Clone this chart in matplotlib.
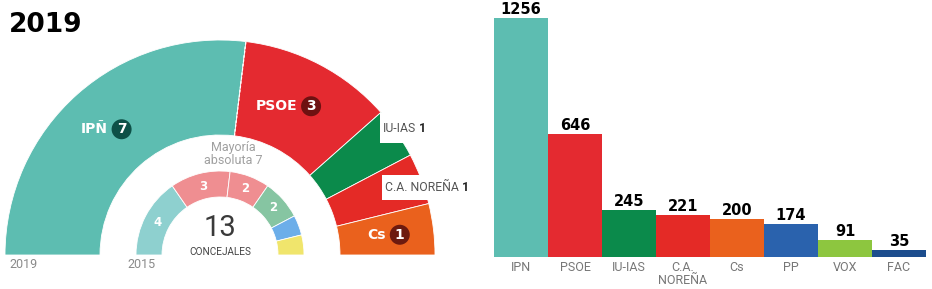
import matplotlib

matplotlib.use("Agg")
import matplotlib.pyplot as plt  # noqa: E402
from matplotlib.patches import Wedge, Rectangle, Circle  # noqa: E402
import numpy as np  # noqa: E402

# 2019 seats (outer ring)
parties_2019 = ["IPÑ", "PSOE", "IU-IAS", "C.A. NOREÑA", "Cs"]
seats_2019 = [7, 3, 1, 1, 1]
colors_2019 = ["#5dbdb1", "#e42a30", "#0b8a4b", "#e42a26", "#ea611d"]
badge_2019 = ["#0d5047", "#6e1111", None, None, "#6d1a0f"]

# 2015 seats (inner ring)
seats_2015 = [4, 3, 2, 2, 1, 1]
colors_2015 = ["#8ed0cf", "#ef8e91", "#ef8e91", "#86c5a2", "#6caee9", "#f0e56c"]
majority = 7

# votes (bar chart)
bar_labels = ["IPN", "PSOE", "IU-IAS", "C.A.\nNOREÑA", "Cs", "PP", "VOX", "FAC"]
votes = [1256, 646, 245, 221, 200, 174, 91, 35]
bar_colors = ["#5dbdb1", "#e42a30", "#0b8a4b", "#e42a26", "#ea611d",
              "#2a62ad", "#8dc63f", "#1c4d8d"]

GRAY = "#8a8a8a"
W, H = 932, 289

fig = plt.figure(figsize=(W / 100, H / 100), dpi=100)
ax = fig.add_axes([0, 0, 1, 1])
ax.set_xlim(0, W)
ax.set_ylim(0, H)
ax.axis("off")

cx, cy = 220, H - 255


def ring(seats, colors, r_out, width):
    total = sum(seats)
    step = 180.0 / total
    cum = np.concatenate([[0], np.cumsum(seats)])
    mids = []
    for i, c in enumerate(colors):
        t2 = 180 - cum[i] * step
        t1 = 180 - cum[i + 1] * step
        ax.add_patch(Wedge((cx, cy), r_out, t1, t2, width=width,
                           facecolor=c, edgecolor="white", linewidth=0.6))
        mids.append((t1 + t2) / 2)
    return mids, step


# outer ring 2019
mids19, step19 = ring(seats_2019, colors_2019, 215, 95)
ang = np.deg2rad(180 - majority * step19)
ax.plot([cx + 120 * np.cos(ang), cx + 215 * np.cos(ang)],
        [cy + 120 * np.sin(ang), cy + 215 * np.sin(ang)],
        color="white", linestyle=(0, (2, 1.5)), linewidth=0.9)

for name, n, mid, badge in zip(parties_2019, seats_2019, mids19, badge_2019):
    if badge is None:
        continue
    a = np.deg2rad(mid)
    mx, my = cx + 168 * np.cos(a), cy + 168 * np.sin(a)
    ax.text(mx - 1, my, name, ha="right", va="center", color="white",
            fontsize=10, fontweight="bold", family="DejaVu Sans")
    ax.add_patch(Circle((mx + 13, my), 10, facecolor=badge, edgecolor="none"))
    ax.text(mx + 13, my, str(n), ha="center", va="center", color="white",
            fontsize=10, fontweight="bold", family="DejaVu Sans")

# small boxed labels for the thin segments
for name, n, (bx, by, bh) in zip(parties_2019[2:4], seats_2019[2:4],
                                  [(380, H - 143, 30), (382, H - 200, 25)]):
    ax.add_patch(Rectangle((bx, by), 60, bh, facecolor="white", edgecolor="none"))
    t = ax.text(bx + 3, by + bh / 2, name, ha="left", va="center", color="#555555",
                fontsize=8.8, family="Roboto")
    ax.annotate(f" {n}", xy=(1, 0.5), xycoords=t, ha="left", va="center",
                color="#222222", fontsize=8.8, fontweight="bold", family="Roboto")

# inner ring 2015
mids15, _ = ring(seats_2015, colors_2015, 84, 26)
for n, mid in zip(seats_2015, mids15):
    if n < 2:
        continue
    a = np.deg2rad(mid)
    ax.text(cx + 71 * np.cos(a), cy + 71 * np.sin(a), str(n), ha="center",
            va="center", color="white", fontsize=8.5, fontweight="bold",
            family="DejaVu Sans")

ax.text(cx, H - 228, str(sum(seats_2019)), ha="center", va="center",
        color="#3a3a3a", fontsize=21, family="Roboto")
ax.text(cx, H - 252, "CONCEJALES", ha="center", va="center", color="#444444",
        fontsize=7.2, family="Roboto")
ax.text(233, H - 154, f"Mayoría\nabsoluta {majority}", ha="center", va="center",
        color="#a0a0a0", fontsize=9, family="Roboto", linespacing=0.95)
ax.text(9, H - 264, "2019", ha="left", va="center", color=GRAY, fontsize=9,
        family="Roboto")
ax.text(127, H - 264, "2015", ha="left", va="center", color=GRAY, fontsize=9,
        family="Roboto")
ax.text(9, H - 25, "2019", ha="left", va="center", color="black", fontsize=19,
        fontweight="black", family="DejaVu Sans")

# bar chart
left, right, base, top = 494, 926, 257, 18
bx = fig.add_axes([left / W, (H - base) / H, (right - left) / W, (base - top) / H])
xs = np.arange(len(votes))
bx.bar(xs, votes, width=1.0, color=bar_colors, edgecolor="none")
bx.set_xlim(-0.5, len(votes) - 0.5)
bx.set_ylim(0, max(votes))
for s in bx.spines.values():
    s.set_visible(False)
bx.set_yticks([])
bx.set_xticks(xs)
bx.set_xticklabels(bar_labels, color="#777777", fontsize=9, family="Roboto",
                   linespacing=0.95)
bx.tick_params(axis="x", length=0, pad=3)
for x, v in zip(xs, votes):
    bx.annotate(str(v), xy=(x, v), xytext=(0, 3), textcoords="offset points",
                ha="center", va="baseline", fontsize=10.5, fontweight="bold",
                family="DejaVu Sans", color="black", annotation_clip=False)

fig.savefig("out.png", dpi=100)
